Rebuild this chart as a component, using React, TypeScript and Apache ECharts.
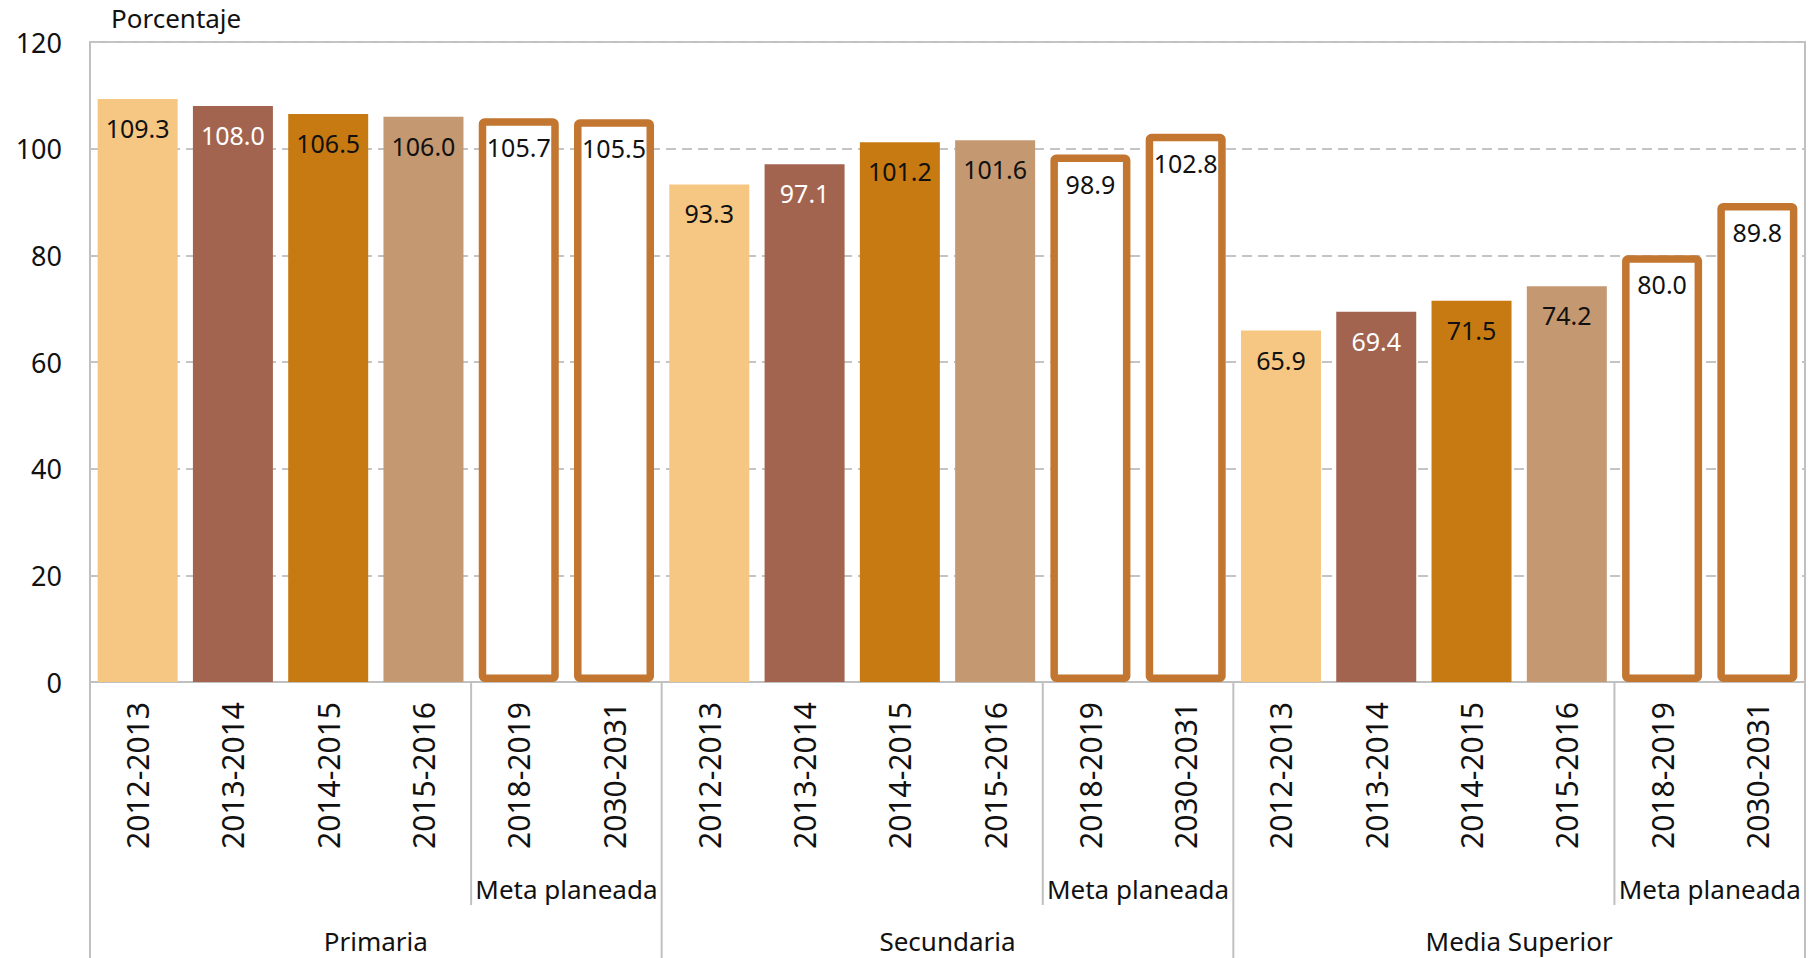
import React, { useEffect, useRef } from 'react';
import * as echarts from 'echarts';

const groups = ['Primaria', 'Secundaria', 'Media Superior'];
const periods = ['2012-2013', '2013-2014', '2014-2015', '2015-2016', '2018-2019', '2030-2031'];
const primaria = [109.3, 108.0, 106.5, 106.0, 105.7, 105.5];
const secundaria = [93.3, 97.1, 101.2, 101.6, 98.9, 102.8];
const mediaSuperior = [65.9, 69.4, 71.5, 74.2, 80.0, 89.8];
const seriesValues = [primaria, secundaria, mediaSuperior];
const metaLabel = 'Meta planeada';
const metaCount = 2;
const yName = 'Porcentaje';
const yMin = 0;
const yMax = 120;
const yStep = 20;

const fills = ['#F5C783', '#A3644F', '#C87A12', '#C49870'];
const labelColors = ['#111111', '#FFFFFF', '#111111', '#111111'];
const outline = '#C27630';
const gray = '#C0C0C0';
const font = "'Noto Sans', sans-serif";

export default function App() {
  const ref = useRef<HTMLDivElement>(null);

  useEffect(() => {
    const chart = echarts.init(ref.current!, null, { renderer: 'svg' });
    const cats = groups.flatMap(() => periods);
    const values = seriesValues.flat();
    const data = values.map((v, i) => {
      const p = i % periods.length;
      const isMeta = p >= periods.length - metaCount;
      return {
        value: v,
        itemStyle: isMeta
          ? { color: '#FFFFFF', borderColor: outline, borderWidth: 7.5, borderRadius: 2 }
          : { color: fills[p] },
        label: { color: isMeta ? '#111111' : labelColors[p] },
      };
    });

    chart.setOption({
      animation: false,
      grid: {
        left: 90,
        right: 15,
        top: 42,
        bottom: 276,
        show: true,
        borderColor: gray,
        borderWidth: 2,
        backgroundColor: 'transparent',
      },
      xAxis: {
        type: 'category',
        data: cats,
        axisLine: { show: true, lineStyle: { color: gray, width: 2 } },
        axisTick: { show: false },
        axisLabel: {
          rotate: 90,
          interval: 0,
          margin: 20,
          fontSize: 30,
          fontFamily: font,
          color: '#111111',
        },
      },
      yAxis: {
        type: 'value',
        min: yMin,
        max: yMax,
        interval: yStep,
        axisLine: { show: false },
        axisTick: { show: false },
        axisLabel: { fontSize: 27, fontFamily: font, color: '#111111', margin: 28 },
        splitLine: { show: true, lineStyle: { color: '#C4C4C4', width: 2, type: [10, 6] } },
      },
      series: [
        {
          type: 'bar',
          data,
          barWidth: 80,
          label: {
            show: true,
            position: ['50%', 29],
            align: 'center',
            verticalAlign: 'middle',
            fontSize: 25,
            fontFamily: font,
            formatter: (p: any) => Number(p.value).toFixed(1),
          },
        },
      ],
    });

    const c0 = chart.convertToPixel({ xAxisIndex: 0 }, 0) as number;
    const c1 = chart.convertToPixel({ xAxisIndex: 0 }, 1) as number;
    const band = c1 - c0;
    const yBase = chart.convertToPixel({ yAxisIndex: 0 }, yMin) as number;
    const yTop = chart.convertToPixel({ yAxisIndex: 0 }, yMax) as number;
    const bottom = 958;
    const n = periods.length;
    const graphics: any[] = [];
    const line = (x: number, y1: number, y2: number) => ({
      type: 'line',
      shape: { x1: x, y1, x2: x, y2 },
      style: { stroke: gray, lineWidth: 2 },
      silent: true,
    });
    const textStyle = (text: string, align: string) => ({
      text,
      fontSize: 26,
      fontFamily: font,
      fill: '#111111',
      align,
      verticalAlign: 'middle',
      textAlign: align,
      textVerticalAlign: 'middle',
    });
    groups.forEach((g, gi) => {
      const start = c0 - band / 2 + gi * n * band;
      const end = start + n * band;
      const metaStart = start + (n - metaCount) * band;
      graphics.push(line(start, yBase, bottom));
      if (gi === groups.length - 1) graphics.push(line(end, yBase, bottom));
      graphics.push(line(metaStart, yBase, 905));
      graphics.push({ type: 'text', x: (metaStart + end) / 2, y: 889, style: textStyle(metaLabel, 'center') });
      graphics.push({ type: 'text', x: (start + end) / 2, y: 941, style: textStyle(g, 'center') });
    });
    graphics.push({ type: 'text', x: 111, y: yTop - 24, style: textStyle(yName, 'left') });
    chart.setOption({ graphic: graphics });

    return () => chart.dispose();
  }, []);

  return (
    <div
      ref={ref}
      style={{ position: 'fixed', left: 0, top: 0, width: 1820, height: 958, background: '#FFFFFF' }}
    />
  );
}
